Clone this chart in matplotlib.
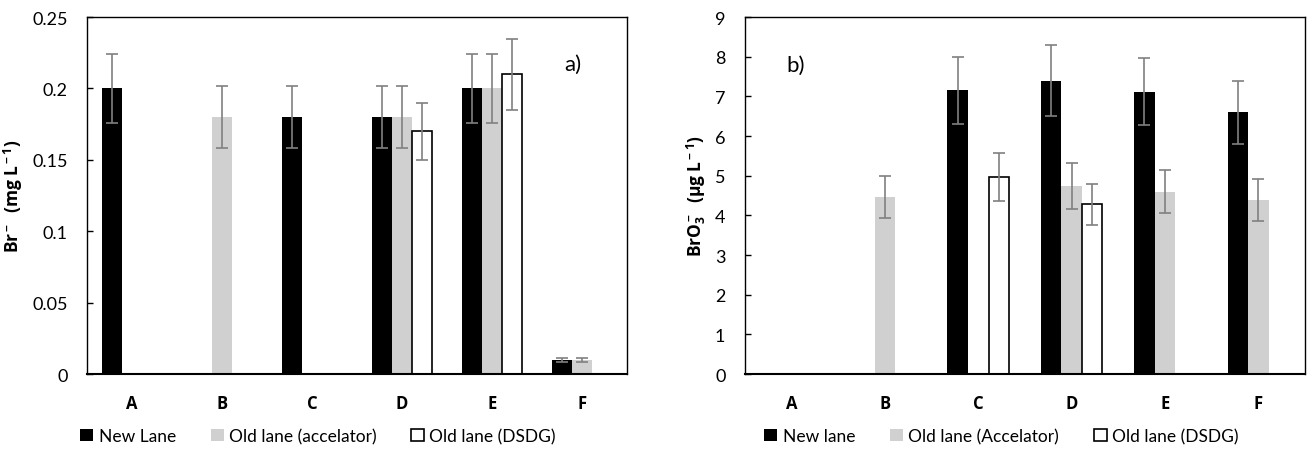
import matplotlib
matplotlib.use("Agg")
import matplotlib.pyplot as plt
import numpy as np

plt.rcParams['font.family'] = ['Lato', 'DejaVu Sans']
plt.rcParams['mathtext.fontset'] = 'custom'
plt.rcParams['mathtext.rm'] = 'Open Sans'
plt.rcParams['mathtext.bf'] = 'Open Sans:bold'
plt.rcParams['mathtext.it'] = 'Open Sans:italic'

sites = ['A', 'B', 'C', 'D', 'E', 'F']

# a) bromide, mg/L
br_new = [0.20, 0, 0.18, 0.18, 0.20, 0.01]
br_acc = [0, 0.18, 0, 0.18, 0.20, 0.01]
br_dsdg = [0, 0, 0, 0.17, 0.21, 0]
br_new_err = [0.024, 0, 0.022, 0.022, 0.024, 0.0012]
br_acc_err = [0, 0.022, 0, 0.022, 0.024, 0.0012]
br_dsdg_err = [0, 0, 0, 0.02, 0.025, 0]

# b) bromate, ug/L
bro_new = [0, 0, 7.15, 7.40, 7.12, 6.60]
bro_acc = [0, 4.47, 0, 4.74, 4.60, 4.39]
bro_dsdg = [0, 0, 4.97, 4.28, 0, 0]
bro_new_err = [0, 0, 0.85, 0.89, 0.85, 0.79]
bro_acc_err = [0, 0.53, 0, 0.57, 0.55, 0.53]
bro_dsdg_err = [0, 0, 0.60, 0.51, 0, 0]

fig = plt.figure(figsize=(13.09, 4.52), dpi=100)
ax1 = fig.add_axes([0.0665, 0.170, 0.4125, 0.790])
ax2 = fig.add_axes([0.569, 0.170, 0.428, 0.790])

x = np.arange(len(sites))
w = 0.22


def draw(ax, series, errs, ymax, yticks, ylabel, labels):
    colors = ['black', '#d0d0d0', 'white']
    edges = ['black', '#d0d0d0', 'black']
    handles = []
    for i, (vals, err) in enumerate(zip(series, errs)):
        pos = x + (i - 1) * w
        h = ax.bar(pos, vals, w, color=colors[i], edgecolor=edges[i],
                   linewidth=1.2 if i == 2 else 0, label=labels[i], zorder=2)
        handles.append(h)
        vals = np.array(vals)
        err = np.array(err)
        m = vals > 0
        ax.errorbar(pos[m], vals[m], yerr=err[m], fmt='none', ecolor='#808080',
                    elinewidth=1.2, capsize=4, capthick=1.2, zorder=3)
    ax.set_xlim(-0.5, 5.5)
    ax.set_ylim(0, ymax)
    ax.set_yticks(yticks)
    ax.set_xticks(x)
    ax.set_xticklabels(sites, fontweight='bold', fontsize=12, family='Open Sans')
    ax.tick_params(axis='x', length=0, pad=14)
    ax.tick_params(axis='y', direction='in', length=4, width=1, pad=14, labelsize=13)
    for s in ax.spines.values():
        s.set_linewidth(1.0)
    ax.spines['bottom'].set_linewidth(1.5)
    ax.set_ylabel(ylabel, fontweight='bold', fontsize=12.5, family='Open Sans')
    return handles


h1 = draw(ax1, [br_new, br_acc, br_dsdg], [br_new_err, br_acc_err, br_dsdg_err],
          0.25, [0, 0.05, 0.1, 0.15, 0.2, 0.25], r'Br$^{\bf -}$  (mg L$^{\bf -1}$)',
          ['New Lane', 'Old lane (accelator)', 'Old lane (DSDG)'])
ax1.set_yticklabels(['0', '0.05', '0.1', '0.15', '0.2', '0.25'])
ax1.text(4.8, 0.217, 'a)', fontsize=16, va='center')

h2 = draw(ax2, [bro_new, bro_acc, bro_dsdg], [bro_new_err, bro_acc_err, bro_dsdg_err],
          9, range(10), r'BrO$_{\bf 3}^{\bf -}$  ($\bf\mu$g L$^{\bf -1}$)',
          ['New lane', 'Old lane (Accelator)', 'Old lane (DSDG)'])
ax2.text(-0.05, 7.8, 'b)', fontsize=16, va='center')
ax1.yaxis.set_label_coords(-0.115, 0.5)
ax2.yaxis.set_label_coords(-0.065, 0.5)

leg_kw = dict(loc='center', ncol=3, frameon=False, fontsize=12.5, handlelength=0.75,
              handleheight=0.75, handletextpad=0.3, columnspacing=2.0)
fig.legend(handles=h1, labels=['New Lane', 'Old lane (accelator)', 'Old lane (DSDG)'],
           bbox_to_anchor=(0.243, 0.033), **leg_kw)
fig.legend(handles=h2, labels=['New lane', 'Old lane (Accelator)', 'Old lane (DSDG)'],
           bbox_to_anchor=(0.765, 0.033), **leg_kw)

fig.savefig('out.png', dpi=100)
